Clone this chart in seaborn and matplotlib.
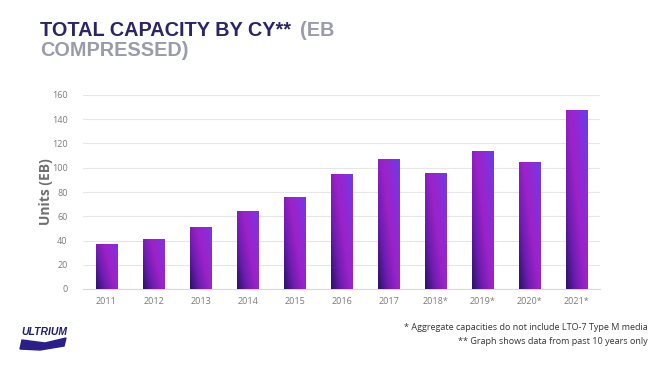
import matplotlib
matplotlib.use("Agg")
import matplotlib.pyplot as plt
import numpy as np
import pandas as pd
import seaborn as sns
from matplotlib.colors import LinearSegmentedColormap
from matplotlib.patches import Polygon

# values (EB compressed)
years = ["2011", "2012", "2013", "2014", "2015", "2016",
         "2017", "2018*", "2019*", "2020*", "2021*"]
capacity = [37, 41, 51, 64, 76, 95, 107, 96, 114, 105, 148]
y_ticks = [0, 20, 40, 60, 80, 100, 120, 140, 160]

df = pd.DataFrame({"year": years, "capacity": capacity})

sns.set_style("white")
plt.rcParams["font.family"] = ["Open Sans", "DejaVu Sans"]

fig = plt.figure(figsize=(6.55, 3.66), dpi=100)
ax = fig.add_axes([83 / 655, 1 - 289 / 366, 517 / 655, 194 / 366])

sns.barplot(data=df, x="year", y="capacity", color="#8a2be2", width=0.45,
            ax=ax, zorder=2)

# diagonal purple gradient on each bar
grad = LinearSegmentedColormap.from_list(
    "bar", ["#2a1268", "#6e1cb0", "#9c22c8", "#8a2dd8", "#623ff0"])
gx, gy = np.meshgrid(np.linspace(0, 1, 40), np.linspace(0, 1, 200))
for patch in ax.patches:
    x0, y0 = patch.get_x(), patch.get_y()
    w, h = patch.get_width(), patch.get_height()
    t = 0.55 * gx + 0.45 * gy * (h / 148) ** 0.3
    im = ax.imshow(t, cmap=grad, origin="lower", aspect="auto",
                   extent=[x0, x0 + w, y0, y0 + h], zorder=3,
                   vmin=0, vmax=1, interpolation="bilinear")
    im.set_clip_path(patch)
    patch.set_alpha(0)

ax.set_xlim(-0.5, len(years) - 0.5)
ax.set_ylim(0, 160)
ax.set_yticks(y_ticks)
ax.yaxis.grid(True, color="#e6e6e6", linewidth=0.8, zorder=0)
ax.set_axisbelow(True)
for s in ["top", "right", "left"]:
    ax.spines[s].set_visible(False)
ax.spines["bottom"].set_color("#d9d9d9")
ax.tick_params(axis="both", length=0, labelsize=6.5, labelcolor="#7a7a7a", pad=6)
ax.tick_params(axis="y", pad=11)
ax.set_xlabel("")
ax.set_ylabel("Units (EB)", fontsize=10, fontweight="bold", color="#6f6f6f",
              labelpad=-1)

# title
title_kw = dict(fontsize=14.3, fontweight="bold", family="Liberation Sans",
                va="center", ha="left")
fig.text(40 / 655, 1 - 30 / 366, "TOTAL CAPACITY BY CY**", color="#2b2466",
         **title_kw)
fig.text(300 / 655, 1 - 30 / 366, "(EB", color="#9a9bab", **title_kw)
fig.text(40 / 655, 1 - 50 / 366, "COMPRESSED)", color="#9a9bab", **title_kw)

# footnotes
fig.text(648 / 655, 1 - 327 / 366,
         "* Aggregate capacities do not include LTO-7 Type M media",
         fontsize=6.5, color="#333333", ha="right", va="center")
fig.text(648 / 655, 1 - 341 / 366,
         "** Graph shows data from past 10 years only",
         fontsize=6.5, color="#333333", ha="right", va="center")

# small Ultrium logo
fig.text(21 / 655, 1 - 332 / 366, "ULTRIUM", fontsize=7.5, fontweight="bold",
         style="italic", color="#1f1f6e", family="Liberation Sans",
         ha="left", va="center")
swoosh = Polygon([[20 / 655, 1 - 349 / 366], [22 / 655, 1 - 340 / 366],
                  [45 / 655, 1 - 343 / 366], [66 / 655, 1 - 338 / 366],
                  [64 / 655, 1 - 346 / 366], [40 / 655, 1 - 350 / 366]],
                 closed=True, transform=fig.transFigure, color="#2a1f8a")
fig.patches.append(swoosh)

fig.savefig("out.png", dpi=100)
